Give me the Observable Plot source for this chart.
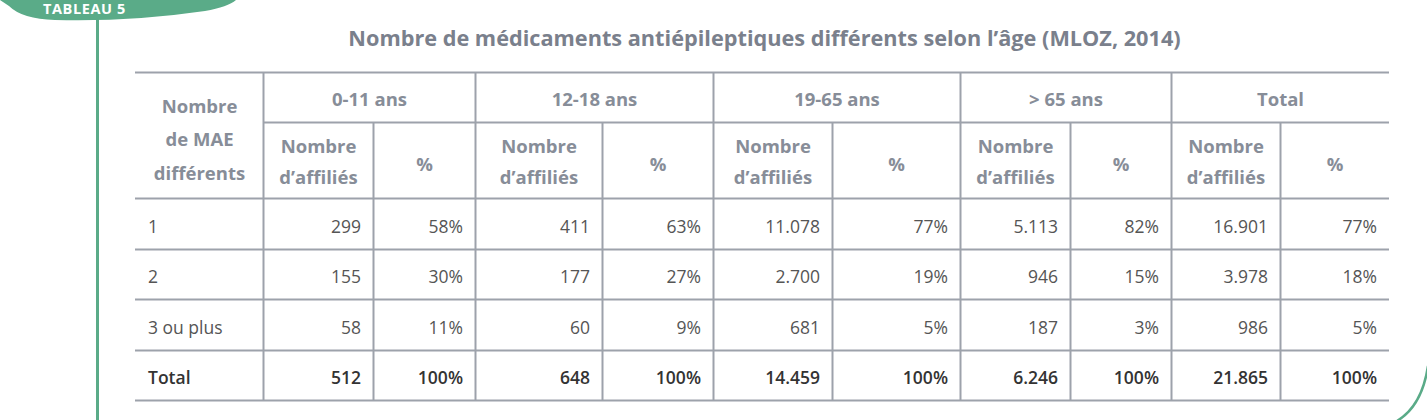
<!DOCTYPE html>
<html>
<head>
<meta charset="utf-8">
<script src="https://cdn.jsdelivr.net/npm/d3@7"></script>
<script src="https://cdn.jsdelivr.net/npm/@observablehq/plot@0.6"></script>
<style>
  html, body { margin: 0; padding: 0; background: #fff; }
  #wrap { position: relative; width: 1427px; height: 420px; overflow: hidden; }
  #wrap svg { position: absolute; left: 0; top: 0; }
</style>
</head>
<body>
<div id="wrap"></div>
<script>
// ---- data ----
const title = "Nombre de médicaments antiépileptiques différents selon l’âge (MLOZ, 2014)";
const badge = "TABLEAU 5";
const firstHeader = ["Nombre", "de MAE", "différents"];
const ageGroups = ["0-11 ans", "12-18 ans", "19-65 ans", "> 65 ans", "Total"];
const subHeaderCount = ["Nombre", "d’affiliés"];
const subHeaderPct = "%";
const rowLabels = ["1", "2", "3 ou plus", "Total"];
const counts0_11 = [299, 155, 58, 512];
const counts12_18 = [411, 177, 60, 648];
const counts19_65 = [11078, 2700, 681, 14459];
const counts65 = [5113, 946, 187, 6246];
const countsTotal = [16901, 3978, 986, 21865];
const pct0_11 = [58, 30, 11, 100];
const pct12_18 = [63, 27, 9, 100];
const pct19_65 = [77, 19, 5, 100];
const pct65 = [82, 15, 3, 100];
const pctTotal = [77, 18, 5, 100];

const countsByGroup = [counts0_11, counts12_18, counts19_65, counts65, countsTotal];
const pctByGroup = [pct0_11, pct12_18, pct19_65, pct65, pctTotal];

// ---- layout (pixels) ----
const W = 1427, H = 420;
const colEdges = [135, 263, 373, 475, 602, 713, 832, 960, 1070, 1171, 1280, 1389];
const rowEdges = [72, 122, 198, 249, 299, 350, 400];
const tableLeft = colEdges[0], tableRight = colEdges[colEdges.length - 1];
const pad = 12.5;

const FONT = "'Open Sans', 'Noto Sans', sans-serif";
const lineColor = "#9da2ab";
const headColor = "#878d98";
const bodyColor = "#555555";
const totalColor = "#333333";
const green = "#5aab88";

const fmtCount = d3.formatLocale({decimal: ",", thousands: ".", grouping: [3], currency: ["", " €"]}).format(",d");

// horizontal rules
const hRules = [
  {y: rowEdges[0], x1: tableLeft, x2: tableRight},
  {y: rowEdges[1], x1: colEdges[1], x2: tableRight},
  ...rowEdges.slice(2).map(y => ({y, x1: tableLeft, x2: tableRight}))
];
// vertical rules
const vRules = [];
ageGroups.forEach((g, i) => {
  vRules.push({x: colEdges[1 + 2 * i], y1: rowEdges[0], y2: rowEdges[6]});
  vRules.push({x: colEdges[2 + 2 * i], y1: rowEdges[1], y2: rowEdges[6]});
});

// header texts
const groupHeaders = ageGroups.map((g, i) => ({
  text: g,
  x: (colEdges[1 + 2 * i] + colEdges[3 + 2 * i]) / 2,
  y: (rowEdges[0] + rowEdges[1]) / 2 + 2.5
}));
const subHeaders = [];
ageGroups.forEach((g, i) => {
  subHeaders.push({text: subHeaderCount.join("\n"), x: (colEdges[1 + 2 * i] + colEdges[2 + 2 * i]) / 2, y: (rowEdges[1] + rowEdges[2]) / 2 - 2});
  subHeaders.push({text: subHeaderPct, x: (colEdges[2 + 2 * i] + colEdges[3 + 2 * i]) / 2, y: (rowEdges[1] + rowEdges[2]) / 2 + 0.5});
});
const firstHead = [{text: firstHeader.join("\n"), x: (colEdges[0] + colEdges[1]) / 2, y: (rowEdges[0] + rowEdges[2]) / 2 + 0}];

// body cells
const cells = [];
rowLabels.forEach((lab, r) => {
  const yc = (rowEdges[2 + r] + rowEdges[3 + r]) / 2 + 3;
  const isTotal = r === rowLabels.length - 1;
  cells.push({text: lab, x: tableLeft + pad, y: yc, anchor: "start", total: isTotal});
  ageGroups.forEach((g, i) => {
    cells.push({text: fmtCount(countsByGroup[i][r]), x: colEdges[2 + 2 * i] - pad, y: yc, anchor: "end", total: isTotal});
    cells.push({text: pctByGroup[i][r] + "%", x: colEdges[3 + 2 * i] - pad, y: yc, anchor: "end", total: isTotal});
  });
});
const bodyNormal = cells.filter(d => !d.total);
const bodyTotal = cells.filter(d => d.total);

// decorations (render-only shapes)
function decorations() {
  const ns = "http://www.w3.org/2000/svg";
  const g = document.createElementNS(ns, "g");
  const flag = document.createElementNS(ns, "path");
  flag.setAttribute("d", "M0,0 L236,0 Q228,7 205,11 Q130,22 55,20 Q22,19 9,6 Z");
  flag.setAttribute("fill", green);
  g.appendChild(flag);
  const t = document.createElementNS(ns, "text");
  t.setAttribute("x", 43);
  t.setAttribute("y", 13.5);
  t.setAttribute("fill", "#fff");
  t.setAttribute("text-anchor", "start");
  t.setAttribute("font-family", FONT);
  t.setAttribute("font-weight", "700");
  t.setAttribute("font-size", "14.5");
  t.setAttribute("letter-spacing", "0.6");
  t.textContent = badge;
  g.appendChild(t);
  const vline = document.createElementNS(ns, "line");
  vline.setAttribute("x1", 97.5); vline.setAttribute("x2", 97.5);
  vline.setAttribute("y1", 18); vline.setAttribute("y2", H);
  vline.setAttribute("stroke", green); vline.setAttribute("stroke-width", 3);
  g.appendChild(vline);
  const arc = document.createElementNS(ns, "path");
  arc.setAttribute("d", "M1428,366 Q1422,406 1397,421");
  arc.setAttribute("fill", "none");
  arc.setAttribute("stroke", green); arc.setAttribute("stroke-width", 2.5);
  g.appendChild(arc);
  return g;
}

const chart = Plot.plot({
  width: W,
  height: H,
  margin: 0,
  x: {domain: [0, W], range: [0, W], axis: null},
  y: {domain: [0, H], range: [0, H], axis: null},
  style: {fontFamily: FONT, background: "#fff"},
  marks: [
    () => decorations(),
    Plot.ruleY(hRules, {y: "y", x1: "x1", x2: "x2", stroke: lineColor, strokeWidth: 2}),
    Plot.ruleX(vRules, {x: "x", y1: "y1", y2: "y2", stroke: lineColor, strokeWidth: 2}),
    Plot.text([title], {x: () => (tableLeft + tableRight) / 2 + 2, y: () => 39, text: d => d, fontSize: 21.7, fontWeight: 700, fill: "#7a808c"}),
    Plot.text(groupHeaders, {x: "x", y: "y", text: "text", fontSize: 18.5, fontWeight: 700, fill: headColor}),
    Plot.text(subHeaders, {x: "x", y: "y", text: "text", fontSize: 18.5, fontWeight: 700, fill: headColor, lineHeight: 1.68}),
    Plot.text(firstHead, {x: "x", y: "y", text: "text", fontSize: 18.5, fontWeight: 700, fill: headColor, lineHeight: 1.82}),
    Plot.text(bodyNormal, {x: "x", y: "y", text: "text", textAnchor: "start", fontSize: 17.5, fill: bodyColor, filter: d => d.anchor === "start"}),
    Plot.text(bodyNormal, {x: "x", y: "y", text: "text", textAnchor: "end", fontSize: 17.5, fill: bodyColor, filter: d => d.anchor === "end"}),
    Plot.text(bodyTotal, {x: "x", y: "y", text: "text", textAnchor: "start", fontSize: 17.5, fontWeight: 600, fill: totalColor, filter: d => d.anchor === "start"}),
    Plot.text(bodyTotal, {x: "x", y: "y", text: "text", textAnchor: "end", fontSize: 17.5, fontWeight: 600, fill: totalColor, filter: d => d.anchor === "end"})
  ]
});
document.getElementById("wrap").appendChild(chart);
</script>
</body>
</html>
